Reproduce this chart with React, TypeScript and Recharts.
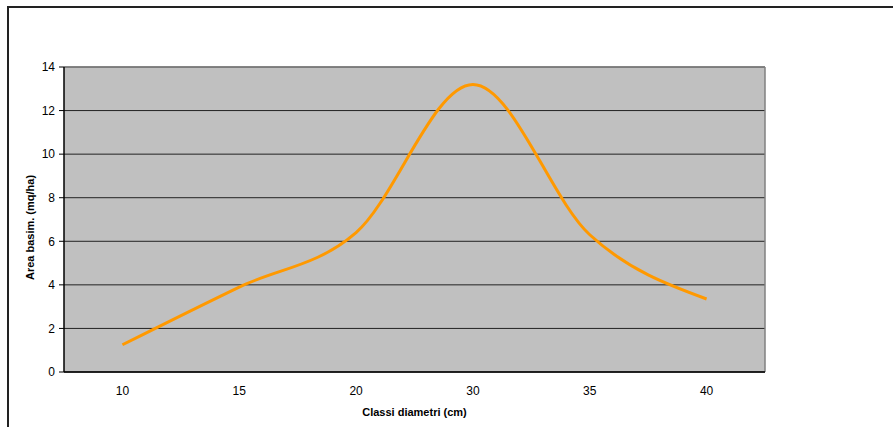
import { LineChart, Line, XAxis, YAxis, CartesianGrid, ReferenceLine } from 'recharts';

const categories = ['10', '15', '20', '30', '35', '40'];
const basalArea = [1.25, 3.9, 6.4, 13.2, 6.3, 3.35];
const yTicks = [0, 2, 4, 6, 8, 10, 12, 14];

const data = categories.map((c, i) => ({ pos: i + 0.5, label: c, area: basalArea[i] }));
const boundTicks = categories.map((_, i) => i).concat(categories.length);
const labelTicks = data.map(d => d.pos);

const font = { fontFamily: 'Arial, "Liberation Sans", sans-serif', fontSize: 12, fill: '#000' };

export default function App() {
  return (
    <div style={{ position: 'absolute', left: 0, top: 0, width: 893, height: 427, overflow: 'hidden', background: '#fff' }}>
      <LineChart width={893} height={427} data={data} margin={{ top: 67, right: 128, bottom: 4, left: 4 }}>
        <CartesianGrid fill="#c0c0c0" vertical={false} stroke="#222" strokeOpacity={1} />
        <XAxis
          xAxisId="bounds"
          type="number"
          dataKey="pos"
          domain={[0, categories.length]}
          ticks={boundTicks}
          tick={false}
          tickSize={5}
          height={6}
          axisLine={{ stroke: '#000', strokeWidth: 1.5 }}
          tickLine={{ stroke: '#000' }}
        />
        <XAxis
          xAxisId="labels"
          type="number"
          dataKey="pos"
          domain={[0, categories.length]}
          ticks={labelTicks}
          tickFormatter={(v: number) => categories[Math.floor(v)]}
          axisLine={false}
          tickLine={false}
          tickSize={0}
          tickMargin={8}
          height={45}
          tick={font}
          label={{
            value: 'Classi diametri (cm)',
            position: 'insideBottom',
            offset: 7,
            style: { ...font, fontSize: 11, fontWeight: 'bold' },
          }}
        />
        <YAxis
          domain={[0, 14]}
          ticks={yTicks}
          width={60}
          tickSize={5}
          tickMargin={4}
          tick={font}
          axisLine={{ stroke: '#000', strokeWidth: 1.5 }}
          tickLine={{ stroke: '#000' }}
          label={{
            value: 'Area basim. (mq/ha)',
            angle: -90,
            position: 'center',
            dx: -4,
            dy: 8,
            style: { ...font, fontSize: 11, fontWeight: 'bold', textAnchor: 'middle' },
          }}
        />
        <ReferenceLine y={14} xAxisId="labels" stroke="#808080" strokeWidth={1.5} />
        <ReferenceLine x={categories.length} xAxisId="labels" stroke="#808080" strokeWidth={1.5} />
        <Line
          xAxisId="labels"
          type="monotone"
          dataKey="area"
          stroke="#ff9900"
          strokeWidth={3}
          dot={false}
          isAnimationActive={false}
        />
      </LineChart>
      {/* outer chart frame, top and left edges */}
      <div style={{ position: 'absolute', left: 7, top: 6, width: 900, height: 2, background: '#222' }} />
      <div style={{ position: 'absolute', left: 7, top: 6, width: 2, height: 440, background: '#222' }} />
    </div>
  );
}
